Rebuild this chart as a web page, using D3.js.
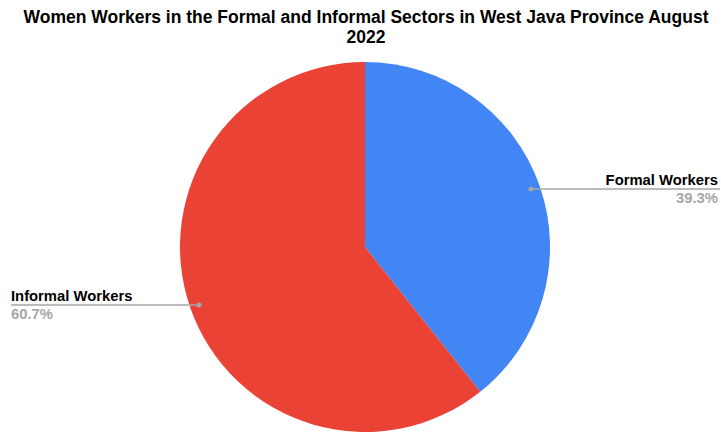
<!DOCTYPE html>
<html>
<head>
<meta charset="utf-8">
<script src="https://cdn.jsdelivr.net/npm/d3@7"></script>
<style>
  html, body { margin: 0; padding: 0; background: #fff; }
  svg { display: block; font-family: "Liberation Sans", Arial, sans-serif; }
</style>
</head>
<body>
<svg id="chart" width="721" height="432"></svg>
<script>
// Share of women workers by sector, West Java, August 2022
const categories = ["Formal Workers", "Informal Workers"];
const shares = [39.3, 60.7];
const colors = ["#4285F4", "#EA4335"];
const titleLines = ["Women Workers in the Formal and Informal Sectors in West Java Province August", "2022"];

const W = 721, H = 432;
const cx = 365, cy = 247, R = 185;

const svg = d3.select("#chart");

// Title, two centred lines
svg.append("text")
  .attr("text-anchor", "middle")
  .attr("font-weight", "bold")
  .attr("font-size", 17.5)
  .attr("fill", "#000")
  .selectAll("tspan")
  .data(titleLines)
  .join("tspan")
  .attr("x", 366)
  .attr("y", (d, i) => 23 + i * 19.6)
  .text(d => d);

// Pie starting at 12 o'clock, clockwise
const pie = d3.pie().sort(null).value(d => d.value);
const arcs = pie(categories.map((c, i) => ({ name: c, value: shares[i], color: colors[i] })));
const arc = d3.arc().innerRadius(0).outerRadius(R);
const dotArc = d3.arc().innerRadius(R * 0.95).outerRadius(R * 0.95);

const g = svg.append("g").attr("transform", `translate(${cx},${cy})`);
g.selectAll("path")
  .data(arcs)
  .join("path")
  .attr("d", arc)
  .attr("fill", d => d.data.color);

// Leader lines and labels
const fmt = d3.format(".1f");
arcs.forEach(d => {
  const [px, py] = dotArc.centroid(d);
  const x0 = cx + px, y0 = cy + py;
  const mid = (d.startAngle + d.endAngle) / 2;
  const right = mid < Math.PI;
  const xEnd = right ? 720 : 11;

  svg.append("line")
    .attr("x1", x0).attr("y1", y0)
    .attr("x2", xEnd).attr("y2", y0)
    .attr("stroke", "#a6a6a6")
    .attr("stroke-width", 1.5);
  svg.append("circle")
    .attr("cx", x0).attr("cy", y0)
    .attr("r", 2.5)
    .attr("fill", "#a6a6a6");

  const tx = right ? 718 : 11;
  const anchor = right ? "end" : "start";
  svg.append("text")
    .attr("x", tx).attr("y", y0 - 4)
    .attr("text-anchor", anchor)
    .attr("font-weight", "bold")
    .attr("font-size", 14.8)
    .attr("fill", "#000")
    .text(d.data.name);
  svg.append("text")
    .attr("x", tx).attr("y", y0 + 14)
    .attr("text-anchor", anchor)
    .attr("font-weight", "bold")
    .attr("font-size", 14.8)
    .attr("fill", "#a6a6a6")
    .text(fmt(d.data.value) + "%");
});
</script>
</body>
</html>
